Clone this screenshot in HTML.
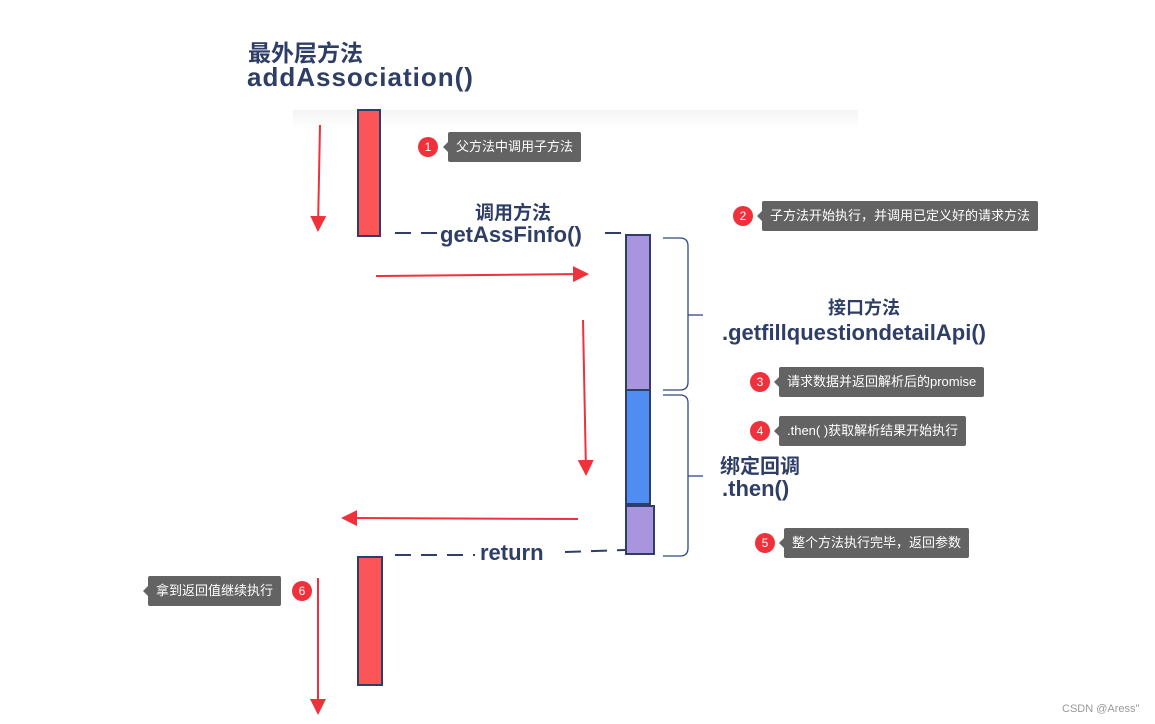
<!DOCTYPE html>
<html><head><meta charset="utf-8"><style>
body{margin:0;width:1155px;height:724px;background:#fff;position:relative;overflow:hidden;font-family:"Liberation Sans","Noto Sans CJK SC",sans-serif}
.t{position:absolute;color:#2f3e66;font-weight:bold;white-space:nowrap}
.tip{position:absolute;background:#636363;color:#fff;font-size:13px;height:30px;line-height:30px;padding:0 8px;border-radius:2px;white-space:nowrap}
.tip:before{content:"";position:absolute;left:-5px;top:10px;border-right:5px solid #636363;border-top:5px solid transparent;border-bottom:5px solid transparent}
.n{position:absolute;width:20px;height:20px;border-radius:50%;background:#f0303a;color:#fff;font-size:12px;text-align:center;line-height:20px}
</style></head><body>
<div style="position:absolute;left:293px;top:110px;width:565px;height:18px;background:linear-gradient(#f4f4f6,#fff)"></div>
<div class="t" style="left:248px;top:34px;font-size:23px">最外层方法</div>
<div class="t" style="left:247px;top:62px;font-size:26px;letter-spacing:1px">addAssociation()</div>
<div class="t" style="left:475px;top:198px;font-size:19px">调用方法</div>
<div class="t" style="left:440px;top:222px;font-size:22px">getAssFinfo()</div>
<div class="t" style="left:828px;top:294px;font-size:18px">接口方法</div>
<div class="t" style="left:722px;top:320px;font-size:22px">.getfillquestiondetailApi()</div>
<div class="t" style="left:720px;top:450px;font-size:20px">绑定回调</div>
<div class="t" style="left:722px;top:476px;font-size:22px">.then()</div>
<div class="t" style="left:480px;top:540px;font-size:22px">return</div>
<svg width="1155" height="724" style="position:absolute;left:0;top:0">
<defs><marker id="a" markerWidth="8" markerHeight="8" refX="6" refY="4" orient="auto"><path d="M0,0L8,4L0,8z" fill="#f0303a"/></marker></defs>
<g stroke="#2f3e66" stroke-width="2">
<rect x="358" y="110" width="22" height="126" fill="#fc5558"/>
<rect x="358" y="557" width="24" height="128" fill="#fc5558"/>
<rect x="626" y="235" width="24" height="155" fill="#a895dd"/>
<rect x="626" y="390" width="24" height="114" fill="#4f8ef0"/>
<rect x="626" y="506" width="28" height="48" fill="#a895dd"/>
</g>
<g stroke="#2f3e66" stroke-width="2" fill="none" stroke-dasharray="16,10">
<line x1="395" y1="233" x2="440" y2="233"/><line x1="605" y1="233" x2="625" y2="233"/>
<line x1="395" y1="555" x2="475" y2="555"/><line x1="565" y1="552" x2="625" y2="550"/>
</g>
<g stroke="#2f4a80" stroke-width="1.3" fill="none">
<path d="M663,238H680Q688,238 688,246V382Q688,390 680,390H663"/><line x1="688" y1="315" x2="703" y2="315"/>
<path d="M663,395H680Q688,395 688,403V548Q688,556 680,556H663"/><line x1="688" y1="476" x2="703" y2="476"/>
</g>
<g stroke="#f0303a" stroke-width="2" marker-end="url(#a)">
<line x1="320" y1="125" x2="318" y2="228"/>
<line x1="376" y1="276" x2="585" y2="274"/>
<line x1="583" y1="320" x2="586" y2="472"/>
<line x1="578" y1="519" x2="345" y2="518"/>
<line x1="318" y1="578" x2="318" y2="711"/>
</g>
</svg>
<div class="n" style="left:418px;top:137px">1</div><div class="tip" style="left:448px;top:132px">父方法中调用子方法</div>
<div class="n" style="left:733px;top:206px">2</div><div class="tip" style="left:762px;top:201px">子方法开始执行，并调用已定义好的请求方法</div>
<div class="n" style="left:750px;top:372px">3</div><div class="tip" style="left:779px;top:367px">请求数据并返回解析后的promise</div>
<div class="n" style="left:750px;top:421px">4</div><div class="tip" style="left:779px;top:416px">.then( )获取解析结果开始执行</div>
<div class="n" style="left:755px;top:533px">5</div><div class="tip" style="left:784px;top:528px">整个方法执行完毕，返回参数</div>
<div class="tip" style="left:148px;top:576px">拿到返回值继续执行</div><div class="n" style="left:292px;top:581px">6</div>
<div style="position:absolute;left:1062px;top:703px;font-size:11px;color:#999">CSDN @Aress"</div>
</body></html>
